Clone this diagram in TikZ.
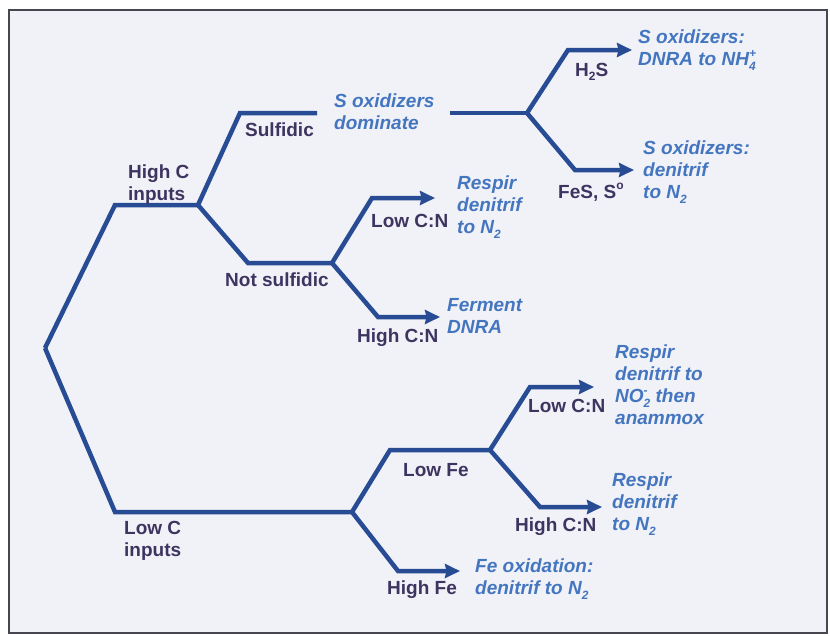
\documentclass[tikz,border=0pt]{standalone}
\usepackage{fontspec}
\setmainfont{Liberation Sans}
\usepackage{tikz}
\usetikzlibrary{arrows.meta}
\definecolor{NitroLinha}{RGB}{40,76,148}
\definecolor{NitroSaida}{RGB}{68,118,192}
\definecolor{NitroRotulo}{RGB}{62,52,96}
\definecolor{NitroFundo}{RGB}{241,241,248}
\definecolor{NitroMoldura}{RGB}{70,70,80}
\newcommand{\subix}[1]{\raisebox{-0.45ex}{\fontsize{12}{12}\selectfont #1}}
\newcommand{\supix}[1]{\raisebox{0.85ex}{\fontsize{12}{12}\selectfont #1}}
\newcommand{\pairix}[2]{\rlap{\supix{#2}}\subix{#1}}
\tikzset{
  ramo/.style={draw=NitroLinha, line width=4.5pt},
  ramoseta/.style={ramo, -{Stealth[length=15pt,width=14pt,inset=1.5pt]}},
  rotulo/.style={font=\fontsize{19}{22}\selectfont\bfseries, text=NitroRotulo,
                 align=left, anchor=west, inner sep=0pt},
  desfecho/.style={rotulo, font=\fontsize{19}{22}\selectfont\bfseries\itshape, text=NitroSaida},
}
\begin{document}
\begin{tikzpicture}[x=1pt, y=-1pt]
  \useasboundingbox (0,0) rectangle (830,635);
  \fill[white] (0,0) rectangle (830,635);
  \filldraw[fill=NitroFundo, draw=NitroMoldura, line width=1.5pt] (9,10) rectangle (827,633);

  % Pontos de ramificação
  \coordinate (raiz) at (45,348);
  \coordinate (hc)   at (115,205);  \coordinate (hcj)  at (198,205);
  \coordinate (su)   at (240,113);  \coordinate (sufim) at (317,113);
  \coordinate (ns)   at (248,263);  \coordinate (nsj)  at (332,263);
  \coordinate (lc1)  at (372,198);  \coordinate (lc1fim) at (435,198);
  \coordinate (hc1)  at (378,317);  \coordinate (hc1fim) at (440,317);
  \coordinate (sdi)  at (450,113);  \coordinate (sdj)  at (527,113);
  \coordinate (hs)   at (568,50);   \coordinate (hsfim) at (632,50);
  \coordinate (fe)   at (575,170);  \coordinate (fefim) at (634,170);
  \coordinate (lc)   at (115,512);  \coordinate (lcj)  at (352,512);
  \coordinate (lf)   at (390,450);  \coordinate (lfj)  at (490,450);
  \coordinate (lc2)  at (530,387);  \coordinate (lc2fim) at (594,387);
  \coordinate (hc2)  at (540,507);  \coordinate (hc2fim) at (602,507);
  \coordinate (hf)   at (398,571);  \coordinate (hffim) at (460,571);

  % Ramos
  \draw[ramo] (raiz) -- (hc) -- (hcj);
  \draw[ramo] (hcj) -- (su) -- (sufim);
  \draw[ramo] (hcj) -- (ns) -- (nsj);
  \draw[ramoseta] (nsj) -- (lc1) -- (lc1fim);
  \draw[ramoseta] (nsj) -- (hc1) -- (hc1fim);
  \draw[ramo] (sdi) -- (sdj);
  \draw[ramoseta] (sdj) -- (hs) -- (hsfim);
  \draw[ramoseta] (sdj) -- (fe) -- (fefim);
  \draw[ramo] (raiz) -- (lc) -- (lcj);
  \draw[ramo] (lcj) -- (lf) -- (lfj);
  \draw[ramoseta] (lfj) -- (lc2) -- (lc2fim);
  \draw[ramoseta] (lfj) -- (hc2) -- (hc2fim);
  \draw[ramoseta] (lcj) -- (hf) -- (hffim);

  % Condições
  \node[rotulo] (altoc)  at (128,185) {High C\\inputs};
  \node[rotulo] (sulf)   at (245,130) {Sulfidic};
  \node[rotulo] (nsulf)  at (225,280) {Not sulfidic};
  \node[rotulo] (lcn1)   at (371,221) {Low C:N};
  \node[rotulo] (hcn1)   at (357,338) {High C:N};
  \node[rotulo] (hds)    at (575,72)  {H\subix{2}S};
  \node[rotulo] (fes)    at (558,192) {FeS, S\supix{o}};
  \node[rotulo] (baixoc) at (124,541) {Low C\\inputs};
  \node[rotulo] (lowfe)  at (403,470) {Low Fe};
  \node[rotulo] (lcn2)   at (528,406) {Low C:N};
  \node[rotulo] (hcn2)   at (515,527) {High C:N};
  \node[rotulo] (highfe) at (387,590) {High Fe};

  % Desfechos
  \node[desfecho] (sdom) at (334,112) {S oxidizers\\dominate};
  \node[desfecho] (out1) at (638,50)  {S oxidizers:\\DNRA to NH\pairix{4}{+}};
  \node[desfecho] (out2) at (643,172) {S oxidizers:\\denitrif\\to N\subix{2}};
  \node[desfecho] (out3) at (457,207) {Respir\\denitrif\\to N\subix{2}};
  \node[desfecho] (out4) at (447,316) {Ferment\\DNRA};
  \node[desfecho] (out5) at (615,385) {Respir\\denitrif to\\NO\pairix{2}{-} then\\anammox};
  \node[desfecho] (out6) at (612,504) {Respir\\denitrif\\to N\subix{2}};
  \node[desfecho] (out7) at (475,579) {Fe oxidation:\\denitrif to N\subix{2}};
\end{tikzpicture}
\end{document}
